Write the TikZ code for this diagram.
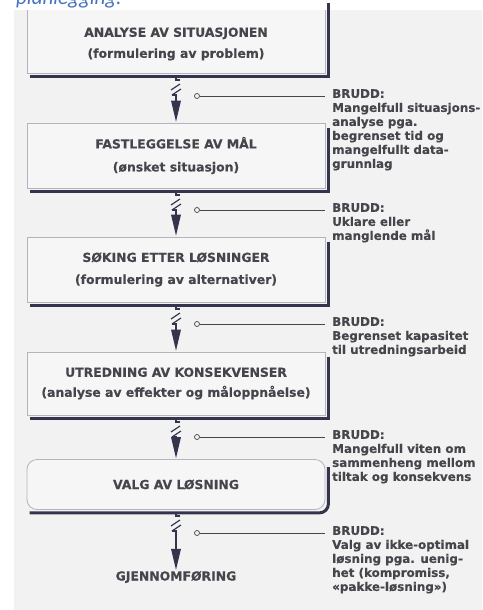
\documentclass[tikz,border=0pt]{standalone}
\usepackage{fontspec}
\setmainfont{DejaVu Sans}[FakeBold=0.3]
\newfontfamily\capfont{Carlito}
\usetikzlibrary{calc}
\definecolor{bg}{HTML}{F2F2F2}
\definecolor{boxfill}{HTML}{F6F6F6}
\definecolor{boxedge}{HTML}{B4B4BC}
\definecolor{navy}{HTML}{34344C}
\definecolor{txt}{HTML}{45454C}
\definecolor{capblue}{HTML}{4472C4}
\newcommand\boxfont{\bfseries\fontsize{12.4}{15}\selectfont}
\newcommand\bruddfont{\bfseries\fontsize{11.9}{14}\selectfont}
\tikzset{
  boxst/.style={draw=boxedge, line width=0.8pt, fill=boxfill, minimum width=298pt, text=txt, font=\boxfont, align=center, inner sep=0pt},
  shad/.style={draw=navy, line width=3pt},
  conn/.style={draw=navy, line width=1.5pt},
  brk/.style={draw=navy, line width=1.2pt},
  head/.style={fill=navy},
  brline/.style={draw=txt, line width=0.7pt},
  ring/.style={circle, draw=txt, line width=0.7pt, fill=bg, inner sep=0pt, minimum size=5pt},
  brudd/.style={anchor=north west, align=left, font=\bruddfont, text=txt, inner sep=0pt},
  boxtext/.style={text=txt, font=\boxfont, align=center, inner sep=0pt}
}
\newcommand\flowlink[4]{% #1 from-y (shadow bottom), #2 target node anchor, #3 ring name, #4 ring y
  \draw[conn] (176,#1) -- (176,#1+4) -- (180,#1+4);
  \draw[brk] (180,#1+8) -- (171,#1+14);
  \draw[brk] (181,#1+13) -- (172,#1+19);
  \draw[conn] (172,#1+19) -- (176,#1+19) -- ($(#2)+(0,-20)$);
  \fill[head] ($(#2)+(-5,-22)$) -- ($(#2)+(5,-22)$) -- ($(#2)+(0,-1)$) -- cycle;
  \node[ring] (#3) at (197,#4) {};
}
\begin{document}
\begin{tikzpicture}[x=1pt,y=-1pt]
\useasboundingbox (0,0) rectangle (482,610);
\clip (0,0) rectangle (482,610);
\fill[white] (0,0) rectangle (482,610);
\fill[bg] (14,10) rectangle (482,610);
\node[anchor=base west, inner sep=0pt, text=capblue, font=\capfont\itshape\fontsize{21}{21}\selectfont] (cap) at (16,5) {planlegging:};

% box 1 (top cut off)
\begin{scope}
\clip (14,10.6) rectangle (482,610);
\node[boxst, minimum height=78pt] (b1) at (176,34) {};
\end{scope}
\node[boxtext] (t1) at (176,44) {ANALYSE AV SITUASJONEN\\[6pt](formulering av problem)};
\draw[shad] ($(b1.north east)+(3,8)$) -- ($(b1.south east)+(3,3)$) -- ($(b1.south west)+(3,3)$);

\node[boxst, minimum height=65pt] (b2) at (176,155.5) {FASTLEGGELSE AV MÅL\\[8pt](ønsket situasjon)};
\draw[shad] ($(b2.north east)+(3,5)$) -- ($(b2.south east)+(3,3)$) -- ($(b2.south west)+(3,3)$);

\node[boxst, minimum height=65pt] (b3) at (176,269.5) {SØKING ETTER LØSNINGER\\[7pt](formulering av alternativer)};
\draw[shad] ($(b3.north east)+(3,5)$) -- ($(b3.south east)+(3,3)$) -- ($(b3.south west)+(3,3)$);

\node[boxst, minimum height=63pt] (b4) at (176,383.5) {UTREDNING AV KONSEKVENSER\\[5pt](analyse av effekter og måloppnåelse)};
\draw[shad] ($(b4.north east)+(3,5)$) -- ($(b4.south east)+(3,3)$) -- ($(b4.south west)+(3,3)$);

\node[boxst, minimum height=50pt, rounded corners=10pt] (b5) at (176,484.5) {VALG AV LØSNING};
\draw[shad, rounded corners=9pt] ($(b5.north east)+(3,8)$) -- ($(b5.south east)+(3,3)$) -- ($(b5.south west)+(3,3)$);

\node[boxtext] (g) at (176,577) {GJENNOMFØRING};

% links with breaks
\flowlink{76}{b2.north}{r1}{96}
\flowlink{191}{b3.north}{r2}{210}
\flowlink{305}{b4.north}{r3}{324}
\flowlink{418}{b5.north}{r4}{437}
\flowlink{512}{g.north}{r5}{533}

% BRUDD notes
\node[brudd] (n1) at (332,89) {BRUDD:\\Mangelfull situasjons-\\analyse pga.\\begrenset tid og\\mangelfullt data-\\grunnlag};
\node[brudd] (n2) at (332,203) {BRUDD:\\Uklare eller\\manglende mål};
\node[brudd] (n3) at (332,317) {BRUDD:\\Begrenset kapasitet\\til utredningsarbeid};
\node[brudd] (n4) at (332,430) {BRUDD:\\Mangelfull viten om\\sammenheng mellom\\tiltak og konsekvens};
\node[brudd] (n5) at (332,526) {BRUDD:\\Valg av ikke-optimal\\løsning pga. uenig-\\het (kompromiss,\\«pakke-løsning»)};

\draw[brline] (r1.east) -- ([xshift=-7pt]n1.north west |- r1);
\draw[brline] (r2.east) -- ([xshift=-7pt]n2.north west |- r2);
\draw[brline] (r3.east) -- ([xshift=-7pt]n3.north west |- r3);
\draw[brline] (r4.east) -- ([xshift=-7pt]n4.north west |- r4);
\draw[brline] (r5.east) -- ([xshift=-7pt]n5.north west |- r5);
\end{tikzpicture}
\end{document}
